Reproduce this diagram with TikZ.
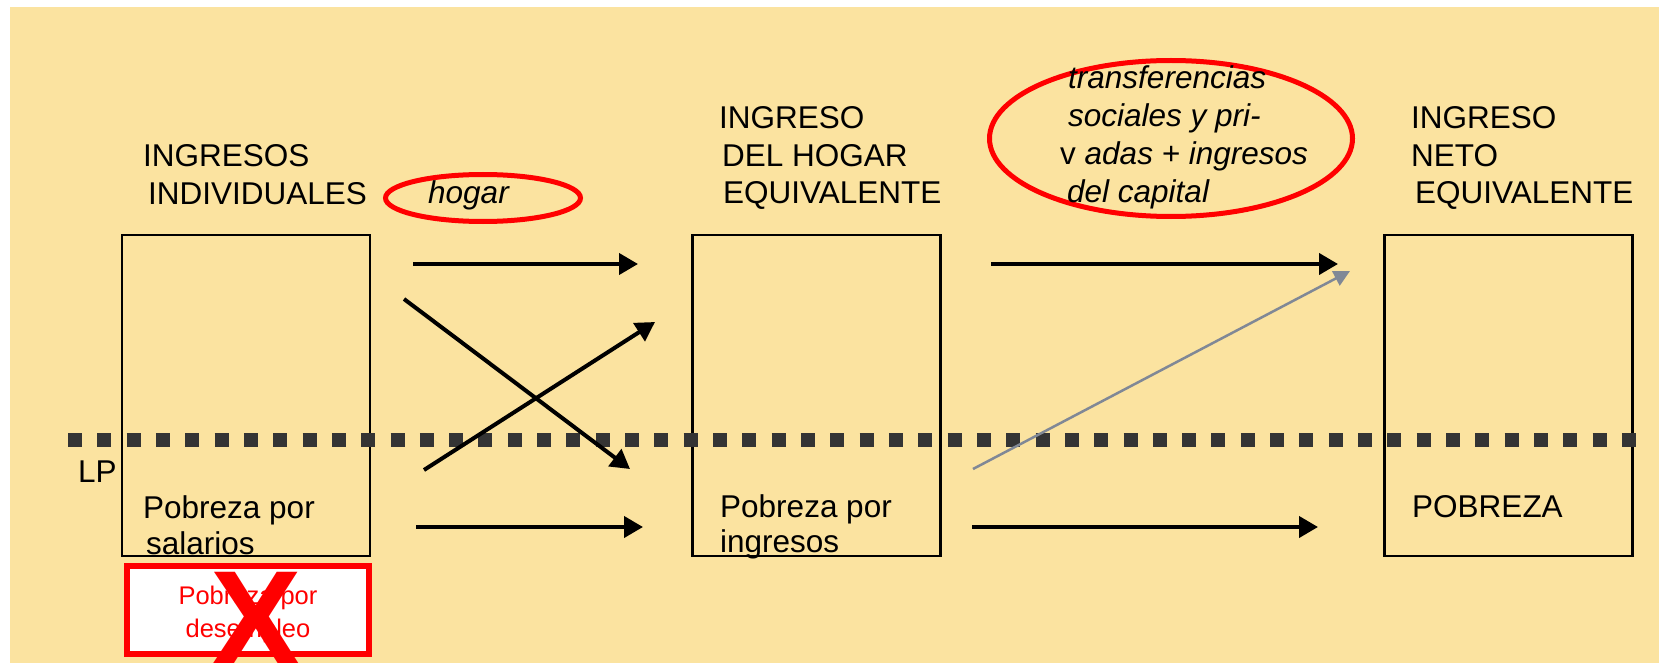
\documentclass[tikz,border=0pt]{standalone}
\usepackage{fontspec}
\setmainfont{Liberation Sans}
\usetikzlibrary{arrows.meta,shapes.geometric}
\definecolor{bgyellow}{RGB}{251,227,160}
\definecolor{lpgray}{RGB}{52,52,52}
\definecolor{slate}{RGB}{128,136,150}
\newcommand{\linesL}[1]{\begin{tabular}[t]{@{}l@{}}#1\end{tabular}}
\newcommand{\linesC}[1]{\begin{tabular}[t]{@{}c@{}}#1\end{tabular}}
\tikzset{
level_box/.style={
	% The shape:
	rectangle,
	% The size:
	minimum width=248pt,
	minimum height=321pt,
	inner sep=0pt,
	% The border:
	line width=2.5pt,
	draw=black
},
lbl/.style={anchor=base west, inner sep=0pt, font=\fontsize{31.5}{37.5}\selectfont},
ring/.style={ellipse, draw=red, line width=5pt, inner sep=0pt},
flow/.style={line width=4pt, -{Triangle[length=19pt,width=21pt]}},
thin_flow/.style={line width=2.5pt, draw=slate, -{Triangle[length=16pt,width=16pt]}},
lp_line/.style={line width=14pt, draw=lpgray, dash pattern=on 14pt off 15.32pt}
}

\begin{document}
\begin{tikzpicture}[x=1pt,y=-1pt]
	\useasboundingbox (0,0) rectangle (1659,663);
	\fill[bgyellow] (10,7) rectangle (1659,663);

	% the three income levels
	\node[level_box] (indiv) at (246,395.5) {};
	\node[level_box] (hogar) at (816.5,395.5) {};
	\node[level_box] (neto) at (1508.5,395.5) {};

	\node[lbl] (indivtitle) at (143,167) {\linesL{INGRESOS\\\hspace{5pt}INDIVIDUALES}};
	\node[lbl] (hogartitle) at (719,129) {\linesL{INGRESO\\\hspace{3pt}DEL HOGAR\\\hspace{4pt}EQUIVALENTE}};
	\node[lbl] (netotitle) at (1411,129) {\linesL{INGRESO\\NETO\\\hspace{4pt}EQUIVALENTE}};

	% poverty line
	\coordinate (lpstart) at (68,440);
	\coordinate (lpend) at (1636,440);
	\draw[lp_line] (lpstart) -- (lpend);
	\node[lbl] (lp) at (78,482) {LP};

	\node[lbl, font=\fontsize{31.5}{36}\selectfont] (salarios) at (143,518) {\linesL{Pobreza por\\\hspace{3pt}salarios}};
	\node[lbl, font=\fontsize{31.5}{35}\selectfont] (ingresos) at (720,517) {\linesL{Pobreza por\\ingresos}};
	\node[lbl] (pobreza) at (1412,517) {POBREZA};

	% red ellipses
	\node[ring, minimum width=195pt, minimum height=47pt] (hogarring) at (483,198) {};
	\node[lbl, font=\fontsize{31.5}{37.5}\selectfont\itshape] (hogarlbl) at (428,204) {hogar};
	\node[ring, minimum width=363pt, minimum height=156pt] (transring) at (1171,138.5) {};
	\node[lbl, font=\fontsize{31.5}{38}\selectfont] (translbl) at (1060,89)
		{\linesL{\hspace{8pt}\textit{transferencias}\\\hspace{8pt}\textit{sociales y pri-}\\v \textit{adas + ingresos}\\\hspace{7pt}\textit{del capital}}};

	% crossed out box
	\node[draw=red, line width=6pt, fill=white, minimum width=242pt, minimum height=88.5pt, inner sep=0pt] (desempleo) at (248,610) {};
	\node[anchor=base, inner sep=0pt, text=red, font=\fontsize{25.5}{33}\selectfont] (desempleolbl) at (248,604) {\linesC{Pobreza por\\desempleo}};
	\node[anchor=base, inner sep=0pt, text=red, font=\fontsize{137}{137}\selectfont\bfseries] (cross) at (256,666) {X};

	% flows
	\coordinate (a1s) at (413,264); \coordinate (a1e) at (638,264);
	\coordinate (a2s) at (404,299); \coordinate (a2e) at (630,469);
	\coordinate (a3s) at (424,470); \coordinate (a3e) at (655,322);
	\coordinate (a4s) at (416,527); \coordinate (a4e) at (643,527);
	\coordinate (b1s) at (991,264); \coordinate (b1e) at (1338,264);
	\coordinate (b2s) at (973,469); \coordinate (b2e) at (1350,271);
	\coordinate (b3s) at (972,527); \coordinate (b3e) at (1318,527);

	\draw[flow] (a1s) -- (a1e);
	\draw[flow] (a2s) -- (a2e);
	\draw[flow] (a3s) -- (a3e);
	\draw[flow] (a4s) -- (a4e);
	\draw[flow] (b1s) -- (b1e);
	\draw[thin_flow] (b2s) -- (b2e);
	\draw[flow] (b3s) -- (b3e);
\end{tikzpicture}
\end{document}
